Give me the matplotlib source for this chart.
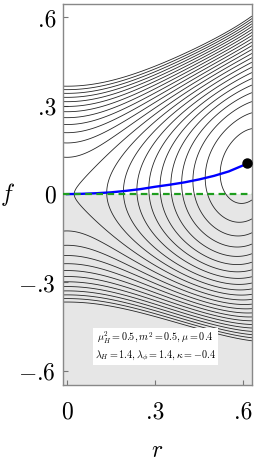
import numpy as np
import matplotlib
matplotlib.use("Agg")
import matplotlib.pyplot as plt

plt.rcParams['mathtext.fontset'] = 'cm'
plt.rcParams['font.family'] = ['cmr10', 'DejaVu Serif']
plt.rcParams['axes.unicode_minus'] = False

# model parameters (from the legend box)
mu_H2, m2, mu = 0.5, 0.5, 0.4
lam_H, lam_phi, kappa = 1.4, 1.4, -0.4

# shape coefficients
quartic_f0 = 0.99
quartic_f_r2 = -1.60
mix_r2f2 = -0.112
mix_r2f = 0.1144

# contour levels of the potential
contour_levels = [-0.04315, -0.03885, -0.03455, -0.03025, -0.02595, -0.02165,
                  -0.01735, -0.01305, -0.00875, -0.00445, -0.00015, 0.00415,
                  0.00845, 0.01275, 0.01705, 0.02135, 0.02565, 0.02995,
                  0.03425, 0.03855, 0.04285, 0.04715, 0.05145]

# path from the origin to the minimum
path_r = [0.0, 0.05, 0.10, 0.15, 0.20, 0.25, 0.30, 0.35, 0.40, 0.45, 0.50, 0.55, 0.60, 0.613]
path_f = [0.0, 0.001, 0.003, 0.006, 0.011, 0.017, 0.025, 0.032, 0.040, 0.050, 0.062, 0.077, 0.098, 0.104]
min_r, min_f = 0.613, 0.104

xticks = [0, 0.3, 0.6]
xticklabels = ['0', '.3', '.6']
yticks = [-0.6, -0.3, 0, 0.3, 0.6]
yticklabels = ['$-$.6', '$-$.3', '0', '.3', '.6']
xlim = (-0.0136, 0.629)
ylim = (-0.648, 0.645)


def potential(r, f):
    r2 = r * r
    return (-mu_H2 / 2 * r2 + lam_H / 4 * r2 * r2 + m2 / 2 * f * f
            + (quartic_f0 + quartic_f_r2 * r2) * f ** 4
            + mix_r2f2 * r2 * f * f - mix_r2f * r2 * f)


fig = plt.figure(figsize=(2.54, 4.66), dpi=100)
ax = fig.add_axes([0.248, 0.174, 0.744, 0.817])

# shaded f < 0 region
ax.axhspan(ylim[0], 0, color='#e6e6e6', lw=0, zorder=0)

rr = np.linspace(xlim[0], xlim[1], 400)
ff = np.linspace(ylim[0], ylim[1], 800)
R, F = np.meshgrid(rr, ff)
ax.contour(R, F, potential(np.abs(R), F), levels=contour_levels,
           colors='#262626', linewidths=0.6, linestyles='solid', zorder=2)

ax.plot(path_r, path_f, color='#0000ff', lw=1.7, zorder=3)
ax.axhline(0, color='#1e9e1e', lw=1.6, ls=(0, (3, 2)), zorder=4)
ax.plot([min_r], [min_f], 'o', color='black', ms=6.5, zorder=5)

ax.text(0.30, -0.517,
        '$\\mu_H^2=0.5, m^2=0.5, \\mu=0.4$\n$\\lambda_H=1.4, \\lambda_\\phi=1.4, \\kappa=-0.4$',
        ha='center', va='center', fontsize=7.3, linespacing=1.25, zorder=6,
        bbox=dict(facecolor='white', edgecolor='none', pad=1.5))

ax.set_xlim(*xlim)
ax.set_ylim(*ylim)
ax.set_xticks(xticks)
ax.set_xticklabels(xticklabels)
ax.set_yticks(yticks)
ax.set_yticklabels(yticklabels)
ax.tick_params(direction='in', length=3.5, width=0.8, color='#777777',
               labelsize=17, pad=12)
ax.tick_params(axis='y', pad=5)
for s in ax.spines.values():
    s.set_color('#888888')
    s.set_linewidth(1.0)

ax.set_xlabel('$r$', fontsize=17, labelpad=12)
ax.set_ylabel('$f$', fontsize=17, rotation=0, labelpad=8, va='center')

fig.savefig('out.png', dpi=100)
